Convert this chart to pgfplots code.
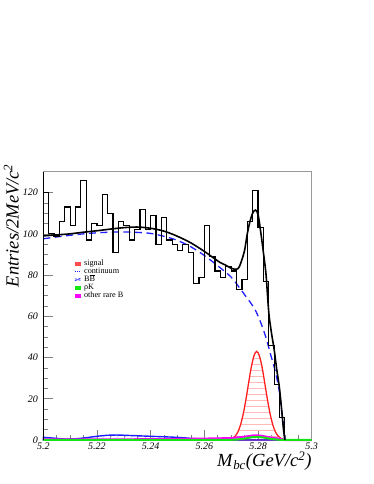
\documentclass[border=0pt]{standalone}
\usepackage{fontspec}
\setmainfont{Liberation Serif}
\usepackage{pgfplots}
\pgfplotsset{compat=1.18}
\usetikzlibrary{patterns.meta}

\definecolor{sigred}{RGB}{255,30,30}
\definecolor{bkgblue}{RGB}{30,30,255}
\definecolor{rhogreen}{RGB}{20,230,20}
\definecolor{rareB}{RGB}{255,0,255}
\newcommand{\barB}{\vbox{\hrule height 0.4pt\kern 0.6pt\hbox{B}}}

\begin{document}
\begin{tikzpicture}[x=1pt,y=1pt]
\useasboundingbox (0,0) rectangle (374,484);
\begin{axis}[
    at={(43.3pt,44pt)}, anchor=south west,
    scale only axis, width=268.4pt, height=268pt,
    xmin=5.2, xmax=5.3, ymin=0, ymax=130,
    clip=false,
    xtick={5.2,5.22,5.24,5.26,5.28,5.3},
    ytick={0,20,40,60,80,100,120},
    minor x tick num=3, minor y tick num=3,
    xtick pos=left, ytick pos=left,
    tick align=inside,
    major tick length=10pt, minor tick length=5pt,
    tick style={gray, line width=0.6pt},
    axis line style={draw=gray!80, line width=1pt},
    /pgf/number format/assume math mode=true,
    /pgf/number format/fixed,
    tick label style={font=\itshape\fontsize{10}{10}\selectfont},
    xticklabel style={yshift=1pt},
    yticklabel style={xshift=-2pt},
    xlabel={\textit{M}\textsubscript{\textit{bc}}\textit{(GeV/c}\textsuperscript{\textit{2}}\textit{)}},
    xlabel style={at={(axis description cs:1,-0.042)}, anchor=north east, font=\fontsize{18.5}{18.5}\selectfont, inner sep=0pt},
    ylabel={\textit{Entries/2MeV/c}\textsuperscript{\textit{2}}},
    ylabel style={at={(axis description cs:-0.09,1.03)}, anchor=south east, font=\fontsize{18.5}{18.5}\selectfont, inner sep=0pt},
    legend style={at={(axis description cs:0.115,0.674)}, anchor=north west,
        draw=none, fill=none, font=\fontsize{8.2}{8.2}\selectfont,
        row sep=0.6pt, inner sep=0pt,
        nodes={inner sep=0.25pt, text height=5.5pt, text depth=1.5pt},
        /tikz/every odd column/.append style={column sep=3pt}},
    legend cell align=left,
]

% legend entries
\addlegendimage{legend image code/.code={\fill[sigred!80] (0pt,-1.6pt) rectangle (5.5pt,1.6pt);}}
\addlegendentry{signal}
\addlegendimage{legend image code/.code={\draw[bkgblue, line width=0.6pt, dash pattern=on 1pt off 1pt] (0pt,0pt) -- (5.5pt,0pt);}}
\addlegendentry{continuum}
\addlegendimage{legend image code/.code={\draw[bkgblue, line width=1pt] (0pt,-1pt) -- (5.5pt,1pt); \draw[bkgblue!60, line width=0.8pt] (0pt,1pt) -- (5.5pt,-1pt);}}
\addlegendentry{B\barB}
\addlegendimage{legend image code/.code={\fill[rhogreen] (0pt,-1.6pt) rectangle (5.5pt,1.6pt);}}
\addlegendentry{ρK}
\addlegendimage{legend image code/.code={\fill[rareB] (0pt,-1.6pt) rectangle (5.5pt,1.6pt);}}
\addlegendentry{other rare B}

% signal
\addplot[forget plot, sigred, line width=1.3pt, smooth,
    pattern={Lines[angle=0,distance=6pt,line width=0.5pt]}, pattern color=sigred!30]
coordinates {
(5.2695,0.3)(5.2705,0.8)(5.2715,1.9)(5.2725,3.9)(5.2735,7.4)(5.2745,12.7)
(5.2755,19.7)(5.2765,27.7)(5.2775,35.4)(5.2785,40.9)(5.2795,43.0)
(5.2805,40.9)(5.2815,35.4)(5.2825,27.7)(5.2835,19.7)(5.2845,12.7)
(5.2855,7.4)(5.2865,3.9)(5.2875,1.9)(5.2885,0.8)(5.2895,0.3)
} \closedcycle;

% B Bbar
\addplot[forget plot, bkgblue, line width=1.4pt, smooth,
    pattern={Lines[angle=45,distance=5pt,line width=0.4pt]}, pattern color=bkgblue!30]
coordinates {
(5.200,1.3)(5.204,0.9)(5.208,0.5)(5.212,0.6)(5.216,1.1)(5.220,1.8)(5.224,2.3)
(5.228,2.4)(5.232,2.2)(5.236,2.0)(5.240,1.8)(5.244,1.6)(5.248,1.4)(5.252,1.1)
(5.256,0.7)(5.260,0.5)(5.264,0.6)(5.268,0.8)(5.272,1.2)(5.276,1.7)(5.279,1.9)
(5.282,1.5)(5.285,1.0)(5.288,0.6)(5.290,0)(5.300,0)
} \closedcycle;

% other rare B
\addplot[forget plot, rareB, line width=2pt, smooth] coordinates {
(5.200,0.3)(5.220,0.3)(5.240,0.4)(5.250,0.5)(5.260,0.7)(5.265,0.8)(5.270,1.0)
(5.274,1.4)(5.277,2.0)(5.279,2.3)(5.281,2.1)(5.284,1.4)(5.287,0.8)(5.289,0.4)
(5.290,0)(5.300,0)
};

% rho K
\addplot[forget plot, rhogreen, line width=2pt] coordinates {
(5.200,0)(5.268,0)(5.272,0.2)(5.275,0.7)(5.278,1.4)(5.280,1.5)(5.282,1.2)
(5.285,0.5)(5.288,0.1)(5.290,0)(5.300,0)
};

% continuum
\addplot[forget plot, bkgblue, line width=1.3pt, smooth, dash pattern=on 7pt off 4.5pt] coordinates {
(5.200,97.6)(5.205,98.5)(5.210,99.3)(5.215,100.0)(5.220,100.5)(5.225,100.8)
(5.230,100.9)(5.235,100.7)(5.240,100.2)(5.245,98.8)(5.250,96.8)(5.255,93.7)
(5.260,89.5)(5.265,84.5)(5.270,79.0)(5.273,74.0)(5.275,70.5)(5.277,67.0)
(5.279,63.0)(5.281,57.0)(5.283,49.5)(5.285,40.0)(5.286,35.5)(5.287,30.0)
(5.288,23.0)(5.289,12.0)(5.2895,7.0)(5.290,0)
};

% data histogram
\addplot[forget plot, black, line width=1.2pt, const plot mark left] coordinates {
(5.200,120)(5.202,100)(5.204,99)(5.206,106)(5.208,113)(5.210,104)(5.212,113)
(5.214,126)(5.216,97)(5.218,105)(5.220,104)(5.222,119)(5.224,110)(5.226,91)
(5.228,106)(5.230,104)(5.232,97)(5.234,102)(5.236,112)(5.238,102)(5.240,109)
(5.242,95)(5.244,108)(5.246,97)(5.248,95)(5.250,92)(5.252,95)(5.254,91)
(5.256,76)(5.258,79)(5.260,104)(5.262,89)(5.264,82)(5.266,79)(5.268,84)
(5.270,82)(5.272,73)(5.274,78)(5.276,106)(5.278,121)(5.280,103)(5.282,77)
(5.284,46)(5.286,27)(5.288,11)(5.290,0)
};

% total fit
\addplot[forget plot, black, line width=1.6pt, smooth, tension=0.5] coordinates {
(5.200,99.0)(5.205,99.5)(5.210,100.0)(5.215,100.8)(5.220,101.5)(5.225,102.3)
(5.230,103.0)(5.235,103.3)(5.240,102.7)(5.245,101.3)(5.250,98.8)(5.255,95.6)
(5.260,91.5)(5.263,88.7)(5.266,86.0)(5.268,84.8)(5.270,83.3)(5.272,82.8)
(5.273,84.0)(5.274,87.5)(5.275,92.0)(5.276,100.0)(5.277,106.0)(5.278,110.0)
(5.279,111.5)(5.280,109.5)(5.281,101.0)(5.282,91.0)(5.283,80.0)(5.284,62.0)
(5.285,52.0)(5.286,44.0)(5.287,34.0)(5.288,25.0)(5.289,12.0)(5.2895,5.0)(5.290,0)
};

\draw[black, line width=1.5pt] (rel axis cs:0,0) -- (rel axis cs:0,1);
\end{axis}
\end{tikzpicture}
\end{document}
